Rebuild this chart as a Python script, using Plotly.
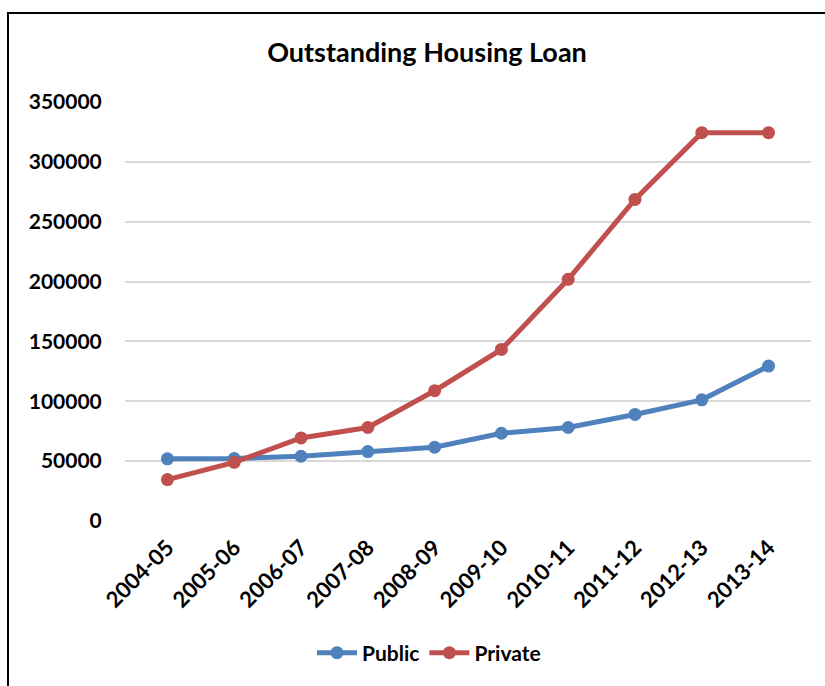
import plotly.graph_objects as go

# Outstanding housing loans by sector, fiscal years
years = ["2004-05", "2005-06", "2006-07", "2007-08", "2008-09",
         "2009-10", "2010-11", "2011-12", "2012-13", "2013-14"]
public = [51900, 52200, 54100, 58000, 61600, 73300, 78100, 89000, 101200, 129400]
private = [34600, 49000, 69400, 78100, 108800, 143300, 201900, 268600, 324400, 324400]
y_ticks = [0, 50000, 100000, 150000, 200000, 250000, 300000, 350000]

BLUE = "#4F81BD"
RED = "#C0504D"
FONT = "Lato"

fig = go.Figure()
fig.add_trace(go.Scatter(
    x=years, y=public, name="Public", mode="lines+markers",
    line=dict(color=BLUE, width=5),
    marker=dict(color=BLUE, size=13),
))
fig.add_trace(go.Scatter(
    x=years, y=private, name="Private", mode="lines+markers",
    line=dict(color=RED, width=5),
    marker=dict(color=RED, size=13),
))

# plot area spans x 125..811 px, y 102..521 px
L, R, T, B = 125, 14, 102, 165
pw, ph = 825 - L - R, 686 - T - B

def px_x(p):
    return (p - L) / pw

def px_y(p):
    return (686 - B - p) / ph

fig.update_layout(
    width=825, height=686,
    margin=dict(l=L, r=R, t=T, b=B),
    paper_bgcolor="white", plot_bgcolor="white",
    font=dict(family=FONT, color="black"),
    title=dict(
        text="Outstanding Housing Loan",
        font=dict(family=FONT, size=27, color="black", weight="bold"),
        xref="container", x=427 / 825, xanchor="center",
        yref="container", y=1 - 53 / 686, yanchor="middle",
    ),
    xaxis=dict(
        type="category", tickangle=-45,
        tickfont=dict(family=FONT, size=22, color="black", weight="bold"),
        showgrid=False, showline=False, zeroline=False,
        ticks="outside", ticklen=4, tickcolor="rgba(0,0,0,0)",
    ),
    yaxis=dict(
        range=[0, 350000], tickvals=y_ticks,
        ticktext=[str(v) for v in y_ticks],
        tickfont=dict(family=FONT, size=21, color="black", weight="bold"),
        showgrid=True, gridcolor="#D9D9D9", gridwidth=1.5,
        zeroline=False, showline=False,
        ticks="outside", ticklen=18, tickcolor="rgba(0,0,0,0)",
    ),
    legend=dict(
        orientation="h", x=px_x(429), xanchor="center",
        y=px_y(653), yanchor="middle",
        font=dict(family=FONT, size=21, color="black", weight="bold"),
        itemwidth=40,
    ),
    shapes=[dict(
        type="rect", xref="paper", yref="paper",
        x0=px_x(8), x1=px_x(846), y0=px_y(720), y1=px_y(13),
        line=dict(color="black", width=2), fillcolor="rgba(0,0,0,0)",
        layer="above",
    )],
)

fig.write_html("out.html")
